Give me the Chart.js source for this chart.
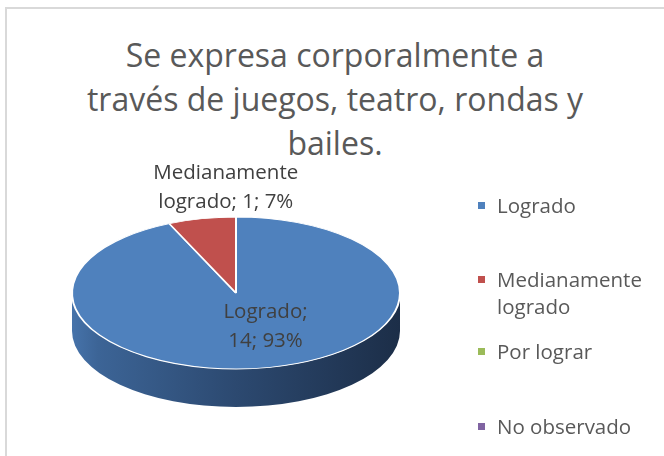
<!DOCTYPE html>
<html>
<head>
<meta charset="utf-8">
<script src="https://cdn.jsdelivr.net/npm/chart.js@4.4.0/dist/chart.umd.min.js"></script>
<style>
  body { margin: 0; background: #fff; }
  #wrap { position: relative; width: 664px; height: 456px; overflow: hidden; font-family: "Open Sans", sans-serif; color: #595959; }
  #frame { position: absolute; left: 5px; top: 7px; width: 700px; height: 500px; border-left: 2px solid #d9d9d9; border-top: 2px solid #d9d9d9; }
  #title { position: absolute; left: 0; top: 33px; width: 670px; text-align: center; font-size: 32px; line-height: 44px; white-space: nowrap; }
  #myChart { position: absolute; left: 0; top: 0; }
  #legend { position: absolute; left: 0; top: 0; }
  .item { position: absolute; left: 478px; font-size: 20.5px; line-height: 27px; white-space: nowrap; }
  .item i { position: absolute; left: 0; top: 10px; width: 7px; height: 7px; }
  .item span { position: absolute; left: 19px; top: 0; }
</style>
</head>
<body>
<div id="wrap">
  <div id="frame"></div>
  <div id="title">Se expresa corporalmente a<br>través de juegos, teatro, rondas y<br>bailes.</div>
  <canvas id="myChart" width="664" height="456"></canvas>
  <div id="legend"></div>
</div>
<script>
var categorias = ['Logrado', 'Medianamente logrado', 'Por lograr', 'No observado'];
var valores = [14, 1, 0, 0];
var colores = ['#4f81bd', '#c0504d', '#9bbb59', '#8064a2'];
var legendLines = [['Logrado'], ['Medianamente', 'logrado'], ['Por lograr'], ['No observado']];
var legendTop = [192, 266, 338, 413];

// leyenda
var legend = document.getElementById('legend');
categorias.forEach((c, i) => {
    var d = document.createElement('div');
    d.className = 'item';
    d.style.top = legendTop[i] + 'px';
    d.innerHTML = '<i style="background:' + colores[i] + '"></i><span>' + legendLines[i].join('<br>') + '</span>';
    legend.appendChild(d);
});

// aspecto 3d
var tilt = 0.4634;
var depth = 38;
var centroY = 293;

function wrapText(ctx, text, maxW) {
    var words = text.split(' ');
    var lines = [];
    var line = '';
    words.forEach(w => {
        var t = line ? line + ' ' + w : w;
        if (line && ctx.measureText(t).width > maxW) {
            lines.push(line);
            line = w;
        } else {
            line = t;
        }
    });
    lines.push(line);
    return lines;
}

const pie3d = {
    id: 'pie3d',
    beforeDatasetsDraw(chart) {
        const ctx = chart.ctx;
        const meta = chart.getDatasetMeta(0);
        const a0 = meta.data[0];
        const cx = a0.x, cy = a0.y, R = a0.outerRadius;
        const ry = R * tilt;
        // paredes laterales
        meta.data.forEach((arc, i) => {
            if (arc.endAngle - arc.startAngle <= 0) return;
            for (let k = -1; k <= 1; k++) {
                const lo = Math.max(arc.startAngle, 2 * Math.PI * k);
                const hi = Math.min(arc.endAngle, 2 * Math.PI * k + Math.PI);
                if (hi <= lo) continue;
                const g = ctx.createLinearGradient(cx - R, 0, cx + R, 0);
                if (i === 0) {
                    g.addColorStop(0, '#4673aa');
                    g.addColorStop(0.08, '#3c6496');
                    g.addColorStop(0.5, '#2c4970');
                    g.addColorStop(1, '#1c2e48');
                } else {
                    g.addColorStop(0, '#a04441');
                    g.addColorStop(1, '#5a2523');
                }
                ctx.save();
                ctx.beginPath();
                ctx.ellipse(cx, centroY, R, ry, 0, lo, hi);
                ctx.ellipse(cx, centroY + depth, R, ry, 0, hi, lo, true);
                ctx.closePath();
                ctx.fillStyle = g;
                ctx.fill();
                ctx.restore();
            }
        });
        ctx.save();
        ctx.translate(cx, centroY);
        ctx.scale(1, tilt);
        ctx.translate(-cx, -cy);
    },
    afterDatasetsDraw(chart) {
        const ctx = chart.ctx;
        ctx.restore();
        const meta = chart.getDatasetMeta(0);
        const total = valores.reduce((a, b) => a + b, 0);
        ctx.save();
        ctx.font = '20.5px "Open Sans"';
        ctx.fillStyle = '#404040';
        ctx.textAlign = 'center';
        ctx.textBaseline = 'middle';
        meta.data.forEach((arc, i) => {
            if (valores[i] === 0) return;
            const pct = Math.round(valores[i] / total * 100);
            const txt = categorias[i] + '; ' + valores[i] + '; ' + pct + '%';
            const R = arc.outerRadius, ry = R * tilt;
            let x, y, lines;
            if (pct > 50) {
                lines = wrapText(ctx, txt, 110);
                x = arc.x + R * 0.18;
                y = centroY + ry * 0.44;
            } else {
                lines = wrapText(ctx, txt, 170);
                const mid = (arc.startAngle + arc.endAngle) / 2;
                x = arc.x + Math.cos(mid) * R * 0.3;
                y = centroY + Math.sin(mid) * ry * 1.42;
            }
            const lh = 29;
            lines.forEach((l, j) => {
                ctx.fillText(l, x, y + (j - (lines.length - 1) / 2) * lh);
            });
        });
        ctx.restore();
    }
};

var ctx = document.getElementById('myChart').getContext('2d');
var chart = new Chart(ctx, {
    type: 'pie',
    data: {
        labels: categorias,
        datasets: [{
            data: valores,
            backgroundColor: colores,
            borderColor: '#ffffff',
            borderWidth: 2
        }]
    },
    options: {
        responsive: false,
        animation: false,
        layout: { padding: { left: 71, right: 263, top: 63, bottom: 63 } },
        plugins: {
            legend: { display: false },
            title: { display: false },
            tooltip: { enabled: false }
        }
    },
    plugins: [pie3d]
});
</script>
</body>
</html>
